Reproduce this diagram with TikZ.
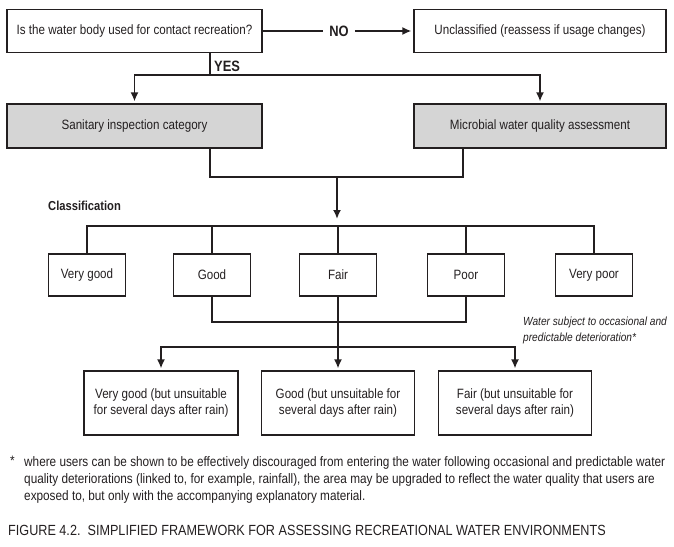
\documentclass[tikz,border=0pt]{standalone}
\usepackage{fontspec}
\setmainfont{Liberation Sans}[FakeStretch=0.86]
\usetikzlibrary{arrows.meta}
\definecolor{ink}{HTML}{231F20}
\definecolor{boxgray}{HTML}{D5D5D5}
\tikzset{
  box/.style={draw=ink, line width=1.1pt, text=ink, align=center, inner sep=2pt, font=\fontsize{13.5}{15.5}\selectfont},
  graybox/.style={box, fill=boxgray},
  conn/.style={draw=ink, line width=1.8pt},
  arr/.style={-{Latex[length=9pt,width=8pt]}, shorten >=2pt},
  lab/.style={text=ink, font=\bfseries\fontsize{15}{16}\selectfont, inner sep=6pt},
}
\begin{document}
\begin{tikzpicture}[x=1pt,y=-1pt]
\useasboundingbox (0,0) rectangle (674,546);
% top row
\node[box, minimum width=255pt, minimum height=43pt] (q) at (134.5,31) {Is the water body used for contact recreation?};
\node[box, minimum width=252pt, minimum height=43pt] (u) at (540,31) {Unclassified (reassess if usage changes)};
\node[lab] (no) at (339,31) {NO};
\draw[conn] (q.east) -- (q.east -| no.west);
\draw[conn,arr] (no.east) -- (u.west);
% second row
\node[graybox, minimum width=255pt, minimum height=44pt] (s) at (134.5,126) {Sanitary inspection category};
\node[graybox, minimum width=252pt, minimum height=44pt] (m) at (540,126) {Microbial water quality assessment};
\coordinate (yes) at (210,75);
\draw[conn] (q.south -| yes) -- (yes);
\node[lab, anchor=west, inner sep=0pt] at (214,66) {YES};
\draw[conn,arr] (yes) -| (s.north);
\draw[conn,arr] (yes) -| (m.north);
\coordinate (sx) at (210,0);
\coordinate (mx) at (463,0);
\coordinate (j1) at (337,177);
\draw[conn] (s.south -| sx) -- (j1 -| sx) -- (j1 -| mx) -- (m.south -| mx);
% classification
\node[text=ink, font=\bfseries\fontsize{13}{15}\selectfont, anchor=west, inner sep=0pt] (cl) at (48,206) {Classification};
\coordinate (bus) at (337,226);
\draw[conn,arr,shorten >=7pt] (j1) -- (bus);
\node[box, minimum width=77pt, minimum height=42pt] (vg) at (87,275) {Very good};
\node[box, minimum width=77pt, minimum height=42pt] (g) at (212,275) {Good};
\node[box, minimum width=77pt, minimum height=42pt] (f) at (338,275) {Fair};
\node[box, minimum width=77pt, minimum height=42pt] (p) at (466,275) {Poor};
\node[box, minimum width=77pt, minimum height=42pt] (vp) at (594,275) {Very poor};
\draw[conn] (vg.north) -- (vg.north |- bus) -- (vp.north |- bus) -- (vp.north);
\draw[conn] (g.north) -- (g.north |- bus);
\draw[conn] (f.north) -- (f.north |- bus);
\draw[conn] (p.north) -- (p.north |- bus);
\coordinate (low) at (338,322);
\coordinate (bot) at (338,347);
\draw[conn] (g.south) -- (g.south |- low) -- (p.south |- low) -- (p.south);
\draw[conn] (f.south) -- (f.south |- bot);
\node[text=ink, font=\itshape\fontsize{11.8}{16}\selectfont, align=left, anchor=north west, inner sep=0pt] (note) at (523,317) {Water subject to occasional and\\predictable deterioration*};
% bottom row
\node[box, minimum width=154pt, minimum height=64pt] (b1) at (161,403) {Very good (but unsuitable\\for several days after rain)};
\node[box, minimum width=153pt, minimum height=64pt] (b2) at (338,403) {Good (but unsuitable for\\several days after rain)};
\node[box, minimum width=153pt, minimum height=64pt] (b3) at (515,403) {Fair (but unsuitable for\\several days after rain)};
\draw[conn,arr] (bot) -| (b1.north);
\draw[conn,arr] (bot) -- (b2.north);
\draw[conn,arr] (bot) -| (b3.north);
% footnote
\node[text=ink, font=\fontsize{13.7}{17}\selectfont, anchor=north west, inner sep=0pt] (star) at (10,456) {*};
\node[text=ink, font=\fontsize{13.7}{17}\selectfont, anchor=north west, inner sep=0pt, align=left] (fn) at (24,456) {where users can be shown to be effectively discouraged from entering the water following occasional and predictable water\\quality deteriorations (linked to, for example, rainfall), the area may be upgraded to reflect the water quality that users are\\exposed to, but only with the accompanying explanatory material.};
\node[text=ink, font=\fontsize{14.7}{16}\selectfont, anchor=west, inner sep=0pt] (cap) at (8,530) {FIGURE 4.2.\ \ SIMPLIFIED FRAMEWORK FOR ASSESSING RECREATIONAL WATER ENVIRONMENTS};
\end{tikzpicture}
\end{document}
